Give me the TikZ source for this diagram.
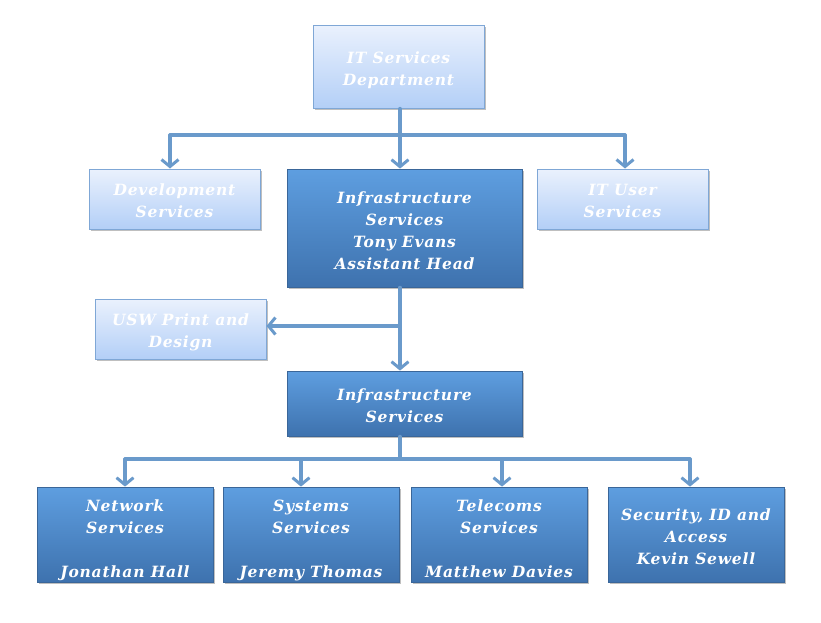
\documentclass[tikz,border=0pt]{standalone}
\usepackage{fontspec}
\setmainfont{DejaVu Serif}[LetterSpace=5]
\usetikzlibrary{shadows,arrows.meta}
\definecolor{lighttop}{HTML}{EAF1FD}
\definecolor{lightbot}{HTML}{B3CFF7}
\definecolor{lightborder}{HTML}{7FA7D6}
\definecolor{darktop}{HTML}{5E9EE0}
\definecolor{darkbot}{HTML}{3E72AE}
\definecolor{darkborder}{HTML}{3A6699}
\definecolor{linkcol}{HTML}{6A9ACB}
\tikzset{
  boxtext/.style={text=white, font=\fontsize{15.5}{22}\selectfont\bfseries\itshape, align=center, inner sep=0pt,
    execute at begin node=\strut, execute at end node=\strut},
  lightbox/.style={draw=lightborder, line width=1pt, top color=lighttop, bottom color=lightbot, inner sep=0pt,
    minimum width=171pt, minimum height=60pt, drop shadow={shadow xshift=1.5pt, shadow yshift=-2pt, opacity=0.5, fill=gray}},
  darkbox/.style={draw=darkborder, line width=0.8pt, top color=darktop, bottom color=darkbot, inner sep=0pt,
    drop shadow={shadow xshift=1.5pt, shadow yshift=-2pt, opacity=0.5, fill=gray}},
  link/.style={draw=linkcol, line width=3.2pt, line cap=round},
  arr/.style={link, -{Straight Barb[length=7pt,width=17pt,line width=3pt]}}
}
\begin{document}
\begin{tikzpicture}[x=1pt,y=-1pt]
\useasboundingbox (0,0) rectangle (821,622);
% boxes
\node[lightbox, minimum width=171pt, minimum height=83pt] (dept) at (398.5,66.5) {};
\node[lightbox] (dev) at (174.5,199) {};
\node[darkbox, minimum width=235pt, minimum height=118pt] (infra) at (404.5,228) {};
\node[lightbox] (itu) at (622.5,199) {};
\node[lightbox] (usw) at (180.5,329) {};
\node[darkbox, minimum width=235pt, minimum height=65pt] (infra2) at (404.5,403.5) {};
\node[darkbox, minimum width=176pt, minimum height=95pt] (net) at (125,534.5) {};
\node[darkbox, minimum width=176pt, minimum height=95pt] (sys) at (311,534.5) {};
\node[darkbox, minimum width=176pt, minimum height=95pt] (tel) at (499,534.5) {};
\node[darkbox, minimum width=176pt, minimum height=95pt] (sec) at (696,534.5) {};
% texts
\node[boxtext] (deptT) at ([yshift=-5.5pt]dept.center) {IT Services\\Department};
\node[boxtext] (devT) at ([yshift=-5pt]dev.center) {Development\\Services};
\node[boxtext] (infraT) at ([yshift=-5.5pt]infra.center) {Infrastructure\\Services\\Tony Evans\\Assistant Head};
\node[boxtext] (ituT) at ([yshift=-5pt]itu.center) {IT User\\Services};
\node[boxtext] (uswT) at ([yshift=-5pt]usw.center) {USW Print and\\Design};
\node[boxtext] (infra2T) at ([yshift=-5pt]infra2.center) {Infrastructure\\Services};
\node[boxtext] (netT) at ([yshift=-7.5pt]net.center) {Network\\Services\\\mbox{}\\Jonathan Hall};
\node[boxtext] (sysT) at ([yshift=-7.5pt]sys.center) {Systems\\Services\\\mbox{}\\Jeremy Thomas};
\node[boxtext] (telT) at ([yshift=-7.5pt]tel.center) {Telecoms\\Services\\\mbox{}\\Matthew Davies};
\node[boxtext] (secT) at ([yshift=-5.5pt]sec.center) {Security, ID and\\Access\\Kevin Sewell};
% junction coordinates
\coordinate (j1) at (400,135);
\coordinate (j1l) at (170,135);
\coordinate (j1r) at (625,135);
\coordinate (j2) at (400,326);
\coordinate (j3) at (400,459);
\coordinate (j3a) at (125,459);
\coordinate (j3b) at (301,459);
\coordinate (j3c) at (502,459);
\coordinate (j3d) at (690,459);
% connectors
\draw[link] (dept.south -| j1) -- (j1);
\draw[link] (j1l) -- (j1r);
\draw[arr] (j1l) -- (j1l |- dev.north);
\draw[arr] (j1) -- (j1 |- infra.north);
\draw[arr] (j1r) -- (j1r |- itu.north);
\draw[arr] (infra.south -| j2) -- (j2 |- infra2.north);
\draw[arr] (j2) -- (usw.east |- j2);
\draw[link] (infra2.south -| j3) -- (j3);
\draw[link] (j3a) -- (j3d);
\draw[arr] (j3a) -- (j3a |- net.north);
\draw[arr] (j3b) -- (j3b |- sys.north);
\draw[arr] (j3c) -- (j3c |- tel.north);
\draw[arr] (j3d) -- (j3d |- sec.north);
\end{tikzpicture}
\end{document}
